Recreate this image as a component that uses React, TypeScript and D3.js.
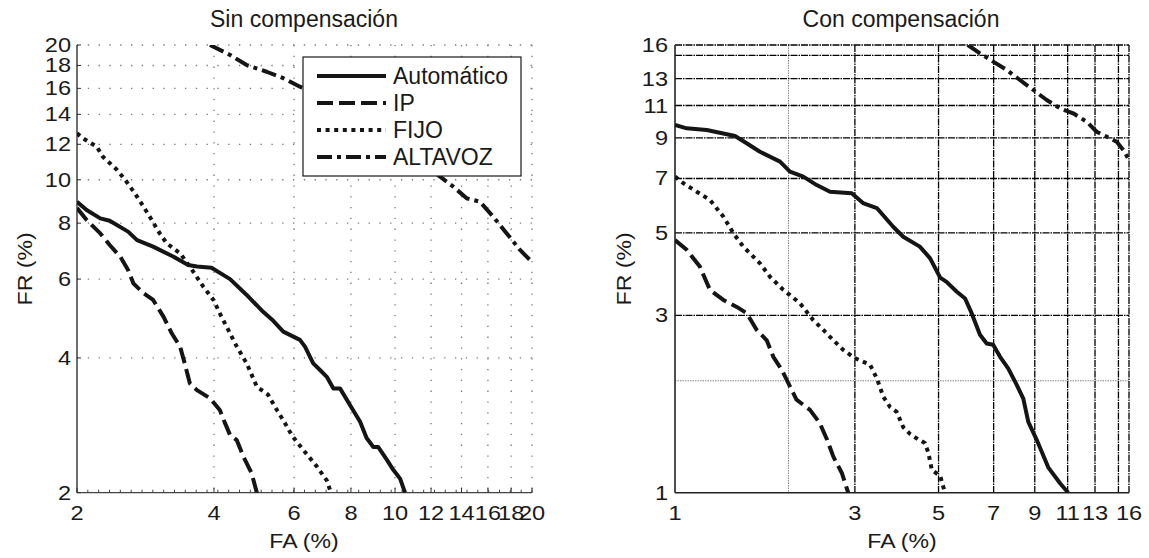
import React from "react";
import * as d3 from "d3";

// ---------- data (FA %, FR %) ----------
const seriesNames = ["Automático", "IP", "FIJO", "ALTAVOZ"];

// Sin compensación
const autoL_x = [2.0, 2.10, 2.25, 2.36, 2.59, 2.71, 2.94, 3.26, 3.51, 3.67, 3.95, 4.34, 4.72, 5.13, 5.40, 5.68, 6.18, 6.34, 6.61, 6.84, 7.08, 7.32, 7.57, 7.96, 8.38, 8.66, 8.96, 9.18, 9.59, 9.91, 10.26, 10.52];
const autoL_y = [8.93, 8.56, 8.20, 8.10, 7.66, 7.33, 7.09, 6.73, 6.45, 6.40, 6.36, 6.00, 5.53, 5.07, 4.84, 4.58, 4.39, 4.24, 3.89, 3.76, 3.63, 3.42, 3.42, 3.14, 2.88, 2.65, 2.53, 2.53, 2.37, 2.25, 2.15, 2.0];
const ipL_x = [2.0, 2.10, 2.25, 2.36, 2.49, 2.59, 2.66, 2.80, 2.94, 3.10, 3.23, 3.37, 3.45, 3.54, 3.67, 3.92, 4.12, 4.23, 4.34, 4.49, 4.64, 4.84, 4.97];
const ipL_y = [8.65, 8.13, 7.59, 7.15, 6.73, 6.29, 5.87, 5.58, 5.39, 4.94, 4.54, 4.24, 3.89, 3.51, 3.39, 3.25, 3.06, 2.86, 2.69, 2.62, 2.41, 2.21, 2.0];
const fijoL_x = [2.0, 2.06, 2.21, 2.28, 2.45, 2.57, 2.68, 2.80, 2.92, 3.04, 3.15, 3.37, 3.54, 3.79, 3.99, 4.12, 4.30, 4.49, 4.72, 4.97, 5.26, 5.50, 5.73, 5.94, 6.29, 6.73, 7.08, 7.23];
const fijoL_y = [12.7, 12.38, 11.86, 11.26, 10.52, 9.90, 9.33, 8.71, 8.13, 7.59, 7.21, 6.85, 6.40, 5.77, 5.39, 5.03, 4.62, 4.24, 3.89, 3.45, 3.31, 3.06, 2.86, 2.68, 2.49, 2.29, 2.13, 2.0];
const altL_x = [3.92, 4.34, 4.72, 5.22, 5.68, 6.18, 8.0, 10.0, 11.5, 12.56, 13.43, 14.37, 15.37, 16.44, 17.6, 18.82, 19.97];
const altL_y = [20, 19.0, 18.04, 17.43, 16.86, 16.14, 14.6, 12.4, 11.0, 10.16, 9.65, 9.09, 8.93, 8.27, 7.59, 6.97, 6.56];

// Con compensación
const autoR_x = [1.0, 1.074, 1.214, 1.443, 1.549, 1.680, 1.899, 2.018, 2.189, 2.376, 2.577, 2.942, 3.152, 3.43, 3.79, 4.03, 4.46, 4.75, 5.05, 5.25, 5.59, 5.88, 6.12, 6.44, 6.71, 6.98, 7.28, 7.65, 8.06, 8.39, 8.65, 9.10, 9.77, 10.50, 11.04];
const autoR_y = [9.75, 9.55, 9.45, 9.11, 8.71, 8.26, 7.77, 7.30, 7.08, 6.72, 6.45, 6.39, 6.01, 5.83, 5.19, 4.88, 4.59, 4.27, 3.79, 3.69, 3.47, 3.33, 3.04, 2.66, 2.52, 2.50, 2.32, 2.16, 1.95, 1.79, 1.55, 1.39, 1.17, 1.06, 1.0];
const ipR_x = [1.0, 1.074, 1.165, 1.238, 1.343, 1.458, 1.549, 1.647, 1.751, 1.823, 1.919, 1.998, 2.10, 2.28, 2.42, 2.53, 2.63, 2.77, 2.88];
const ipR_y = [4.78, 4.50, 4.05, 3.51, 3.30, 3.16, 3.04, 2.74, 2.57, 2.32, 2.14, 1.97, 1.78, 1.67, 1.54, 1.39, 1.25, 1.13, 1.0];
const fijoR_x = [1.0, 1.052, 1.142, 1.238, 1.343, 1.428, 1.517, 1.680, 1.786, 1.938, 2.018, 2.146, 2.327, 2.474, 2.63, 2.796, 3.00, 3.29, 3.43, 3.57, 3.72, 3.87, 4.03, 4.20, 4.42, 4.60, 4.70, 4.80, 5.05, 5.20];
const fijoR_y = [7.08, 6.80, 6.45, 6.13, 5.53, 4.99, 4.59, 4.14, 3.81, 3.51, 3.40, 3.23, 2.91, 2.74, 2.57, 2.42, 2.30, 2.21, 2.03, 1.81, 1.70, 1.65, 1.50, 1.44, 1.39, 1.36, 1.28, 1.15, 1.11, 1.0];
const altR_x = [5.98, 6.44, 6.98, 7.58, 8.22, 8.92, 9.68, 10.50, 11.38, 12.36, 13.13, 13.96, 14.84, 15.45, 16];
const altR_y = [16, 15.20, 14.43, 13.71, 12.88, 12.11, 11.38, 10.81, 10.48, 9.95, 9.35, 9.07, 8.79, 8.35, 7.85];

// ticks
const ticksL = [2, 4, 6, 8, 10, 12, 14, 16, 18, 20];
const gridL = [4, 6, 8, 10, 12, 14, 16, 18, 20];
const ticksR = [1, 3, 5, 7, 9, 11, 13, 16];
const gridR = [3, 5, 7, 9, 11, 13, 15, 16];
const gridRMinor = [2];

const titles = ["Sin compensación", "Con compensación"];
const xLabel = "FA (%)";
const yLabel = "FR (%)";

// ---------- styles ----------
const FONT = "'Liberation Sans', Arial, Helvetica, sans-serif";
const INK = "#151515";
const dashes = ["", "16,6", "4,4.6", "15,5,4,5"];
const LW = 4;

const zip = (xs: number[], ys: number[]) => xs.map((x, i) => [x, ys[i]] as [number, number]);

function TickText({ x, y, anchor, children, size = 20.5, sx = 1.15 }: any) {
  return (
    <text
      transform={`translate(${x},${y}) scale(${sx},1)`}
      textAnchor={anchor}
      fontSize={size}
      fontFamily={FONT}
      fill="#1a1a1a"
    >
      {children}
    </text>
  );
}

export default function App() {
  const top = 45, bottom = 492.7;
  const xL = d3.scaleLog().domain([2, 20]).range([77, 532]);
  const yL = d3.scaleLog().domain([2, 20]).range([bottom, top]);
  const xR = d3.scaleLog().domain([1, 16]).range([675, 1129]);
  const yR = d3.scaleLog().domain([1, 16]).range([bottom, top]);

  const lineL = d3.line<[number, number]>().x((d) => xL(d[0])).y((d) => yL(d[1]));
  const lineR = d3.line<[number, number]>().x((d) => xR(d[0])).y((d) => yR(d[1]));

  const leftSeries = [zip(autoL_x, autoL_y), zip(ipL_x, ipL_y), zip(fijoL_x, fijoL_y), zip(altL_x, altL_y)];
  const rightSeries = [zip(autoR_x, autoR_y), zip(ipR_x, ipR_y), zip(fijoR_x, fijoR_y), zip(altR_x, altR_y)];

  const [lx0, lx1] = xL.range();
  const nMinor = 42;
  const minorL = d3.range(nMinor + 1).map((i) => lx0 + (i * (lx1 - lx0)) / nMinor);

  // legend geometry
  const lg = { x: 303, y: 57, w: 218, h: 119 };
  const rowY = (i: number) => lg.y + 19 + i * 27;

  return (
    <svg
      width={1149}
      height={558}
      style={{ position: "absolute", left: 0, top: 0, background: "#fff" }}
    >
      <defs>
        <clipPath id="clipL">
          <rect x={xL(2)} y={top} width={xL(20) - xL(2)} height={bottom - top} />
        </clipPath>
        <clipPath id="clipR">
          <rect x={xR(1)} y={top} width={xR(16) - xR(1)} height={bottom - top} />
        </clipPath>
      </defs>
      <rect x={0} y={0} width={1149} height={558} fill="#fff" />

      {/* ===== LEFT PANEL ===== */}
      <g>
        {gridL.map((v) => (
          <line key={"gx" + v} x1={xL(v)} x2={xL(v)} y1={top} y2={bottom} stroke="#777" strokeWidth={1.3} strokeDasharray="1.3,9.5" />
        ))}
        {gridL.map((v) => (
          <line key={"gy" + v} x1={xL(2)} x2={xL(20)} y1={yL(v)} y2={yL(v)} stroke="#777" strokeWidth={1.3} strokeDasharray="1.3,9.5" />
        ))}
        {/* axes */}
        <line x1={xL(2)} x2={xL(2)} y1={top} y2={bottom} stroke="#222" strokeWidth={1.3} />
        <line x1={xL(2)} x2={xL(20)} y1={bottom} y2={bottom} stroke="#444" strokeWidth={1.3} />
        {minorL.map((px, i) => (
          <line key={"mt" + i} x1={px} x2={px} y1={bottom} y2={bottom - 3} stroke="#444" strokeWidth={1} />
        ))}
        {ticksL.map((v) => (
          <line key={"tx" + v} x1={xL(v)} x2={xL(v)} y1={bottom} y2={bottom - 5} stroke="#333" strokeWidth={1} />
        ))}
        {ticksL.map((v) => (
          <line key={"ty" + v} x1={xL(2)} x2={xL(2) + 4} y1={yL(v)} y2={yL(v)} stroke="#333" strokeWidth={1} />
        ))}
        {ticksL.map((v) => (
          <TickText key={"lx" + v} x={xL(v)} y={520} anchor="middle">{v}</TickText>
        ))}
        {ticksL.map((v) => (
          <TickText key={"ly" + v} x={71} y={yL(v) + 7} anchor="end">{v}</TickText>
        ))}
        <g clipPath="url(#clipL)">
          {leftSeries.map((s, i) => (
            <path key={"sl" + i} d={lineL(s) || ""} fill="none" stroke={INK} strokeWidth={LW} strokeDasharray={dashes[i]} strokeLinejoin="round" />
          ))}
        </g>
        {/* legend */}
        <rect x={lg.x} y={lg.y} width={lg.w} height={lg.h} fill="#fff" stroke="#1a1a1a" strokeWidth={1.2} />
        {seriesNames.map((n, i) => (
          <g key={"lg" + i}>
            <line x1={lg.x + 14} x2={lg.x + 83} y1={rowY(i)} y2={rowY(i)} stroke={INK} strokeWidth={LW} strokeDasharray={dashes[i]} />
            <text x={lg.x + 90} y={rowY(i) + 8} fontSize={23} fontFamily={FONT} fill="#1a1a1a">{n}</text>
          </g>
        ))}
        <text x={304} y={27} textAnchor="middle" fontSize={23} fontFamily={FONT} fill="#1a1a1a">{titles[0]}</text>
        <TickText x={304} y={548} anchor="middle" size={21} sx={1.1}>{xLabel}</TickText>
        <text transform={`translate(32,${(top + bottom) / 2}) rotate(-90) scale(1.1,1)`} textAnchor="middle" fontSize={21} fontFamily={FONT} fill="#1a1a1a">{yLabel}</text>
      </g>

      {/* ===== RIGHT PANEL ===== */}
      <g>
        {gridRMinor.map((v) => (
          <g key={"rm" + v}>
            <line x1={xR(v)} x2={xR(v)} y1={top} y2={bottom} stroke="#888" strokeWidth={1} strokeDasharray="1.5,1" />
            <line x1={xR(1)} x2={xR(16)} y1={yR(v)} y2={yR(v)} stroke="#888" strokeWidth={1} strokeDasharray="1.5,1" />
          </g>
        ))}
        {gridR.map((v) => (
          <g key={"rg" + v}>
            <line x1={xR(v)} x2={xR(v)} y1={top} y2={bottom} stroke="#000" strokeWidth={1.3} strokeDasharray="7,1,1.5,1" />
            <line x1={xR(1)} x2={xR(16)} y1={yR(v)} y2={yR(v)} stroke="#000" strokeWidth={1.3} strokeDasharray="7,1,1.5,1" />
          </g>
        ))}
        <line x1={xR(1)} x2={xR(1)} y1={top} y2={bottom} stroke="#222" strokeWidth={1.6} />
        <line x1={xR(1)} x2={xR(16)} y1={bottom} y2={bottom} stroke="#222" strokeWidth={1.6} />
        {ticksR.map((v) => (
          <TickText key={"rx" + v} x={xR(v)} y={520} anchor="middle">{v}</TickText>
        ))}
        {ticksR.map((v) => (
          <TickText key={"ry" + v} x={668} y={yR(v) + 7} anchor="end">{v}</TickText>
        ))}
        <g clipPath="url(#clipR)">
          {rightSeries.map((s, i) => (
            <path key={"sr" + i} d={lineR(s) || ""} fill="none" stroke={INK} strokeWidth={LW} strokeDasharray={dashes[i]} strokeLinejoin="round" />
          ))}
        </g>
        <text x={901} y={27} textAnchor="middle" fontSize={23} fontFamily={FONT} fill="#1a1a1a">{titles[1]}</text>
        <TickText x={902} y={548} anchor="middle" size={21} sx={1.1}>{xLabel}</TickText>
        <text transform={`translate(631,${(top + bottom) / 2}) rotate(-90) scale(1.1,1)`} textAnchor="middle" fontSize={21} fontFamily={FONT} fill="#1a1a1a">{yLabel}</text>
      </g>
    </svg>
  );
}
